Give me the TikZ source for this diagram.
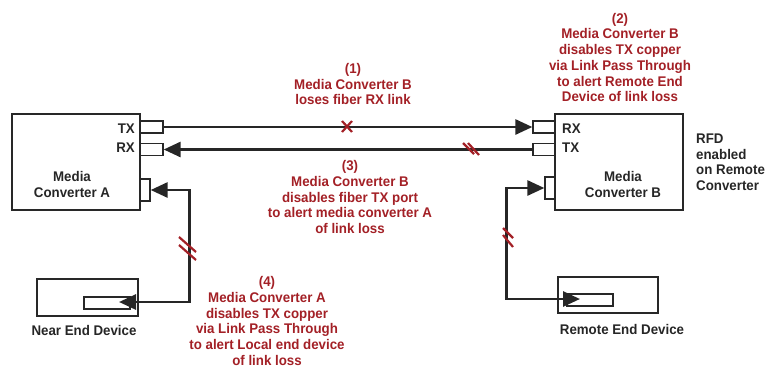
\documentclass[tikz,border=0pt]{standalone}
\usepackage{fontspec}
\setmainfont{Liberation Sans}[FakeStretch=0.95]
\usetikzlibrary{arrows.meta}
\definecolor{alertred}{RGB}{163,32,38}
\definecolor{boxgray}{RGB}{40,40,40}

\begin{document}
\begin{tikzpicture}[x=1pt,y=-1pt,>={Triangle[length=17pt,width=15pt]},
    unit/.style={draw=boxgray,line width=1.4pt,inner sep=0pt},
    port/.style={draw=boxgray,line width=1.3pt,fill=white,inner sep=0pt},
    fiber/.style={draw=black!85,line width=2.8pt},
    copper/.style={draw=black!85,line width=2.8pt},
    brk/.style={draw=alertred,line width=2.2pt},
    lbl/.style={font=\fontsize{14}{15.5}\selectfont\bfseries,text=black!85,inner sep=0pt},
    note/.style={font=\fontsize{14}{15.7}\selectfont\bfseries,text=alertred,align=center,inner sep=0pt}]
      \useasboundingbox (0,0) rectangle (778,368);
      \clip (0,0) rectangle (778,368);
      \node[unit,minimum width=128pt,minimum height=96pt] (mca) at (76,162) {};
      \node[unit,minimum width=128pt,minimum height=96pt] (mcb) at (619,162) {};
      \node[port,minimum width=23pt,minimum height=12pt] (txa) at (151.5,127) {};
      \node[port,minimum width=23pt,minimum height=12pt] (rxa) at (151.5,149.5) {};
      \node[port,minimum width=10pt,minimum height=22pt] (cpa) at (145,190) {};
      \node[port,minimum width=22pt,minimum height=12pt] (rxb) at (544,127) {};
      \node[port,minimum width=22pt,minimum height=12pt] (txb) at (544,149.5) {};
      \node[port,minimum width=10pt,minimum height=22pt] (cpb) at (550,188) {};
      \node[unit,minimum width=101pt,minimum height=37pt] (ned) at (87.5,297.5) {};
      \node[port,minimum width=46pt,minimum height=12pt] (nedin) at (107,303) {};
      \node[unit,minimum width=100pt,minimum height=36pt] (red) at (608,295) {};
      \node[port,minimum width=46pt,minimum height=12pt] (redin) at (590,300) {};
      \coordinate (nedtip) at (119,302);
      \coordinate (redtip) at (580,299);

      \node[lbl,anchor=east] (txal) at (135,129) {TX};
      \node[lbl,anchor=east] (rxal) at (135,148) {RX};
      \node[lbl,anchor=west] (rxbl) at (562,129) {RX};
      \node[lbl,anchor=west] (txbl) at (562,148) {TX};
      \node[lbl,align=center] (mcal) at (72,184.5) {Media\\Converter A};
      \node[lbl,align=center] (mcbl) at (623,184.5) {Media\\Converter B};
      \node[lbl,align=left,anchor=west] (rfd) at (696,162) {RFD\\enabled\\on Remote\\Converter};
      \node[lbl] (nedl) at (84,330) {Near End Device};
      \node[lbl] (redl) at (622,329) {Remote End Device};

      \draw[fiber,->] (txa.east) -- (rxb.west);
      \draw[fiber,->] (txb.west) -- (rxa.east);
      \draw[copper,<->] (cpa.east) -- ++(39,0) |- (nedtip);
      \draw[copper,<->] (cpb.west) -- ++(-38,0) |- (redtip);

      \draw[brk] (342,121) -- (352,132);
      \draw[brk] (342,132) -- (352,121);
      \draw[brk] (463,143) -- (474,154);
      \draw[brk] (468,143) -- (479,155);
      \draw[brk] (179,237) -- (196,252);
      \draw[brk] (179,245) -- (196,260);
      \draw[brk] (503,228) -- (513,238);
      \draw[brk] (503,235) -- (513,247);

      \node[note] (n1) at (353,84) {(1)\\Media Converter B\\loses fiber RX link};
      \node[note] (n2) at (620,57.5) {(2)\\Media Converter B\\disables TX copper\\via Link Pass Through\\to alert Remote End\\Device of link loss};
      \node[note] (n3) at (350,197) {(3)\\Media Converter B\\disables fiber TX port\\to alert media converter A\\of link loss};
      \node[note] (n4) at (267,321) {(4)\\Media Converter A\\disables TX copper\\via Link Pass Through\\to alert Local end device\\of link loss};
    \end{tikzpicture}
\end{document}
